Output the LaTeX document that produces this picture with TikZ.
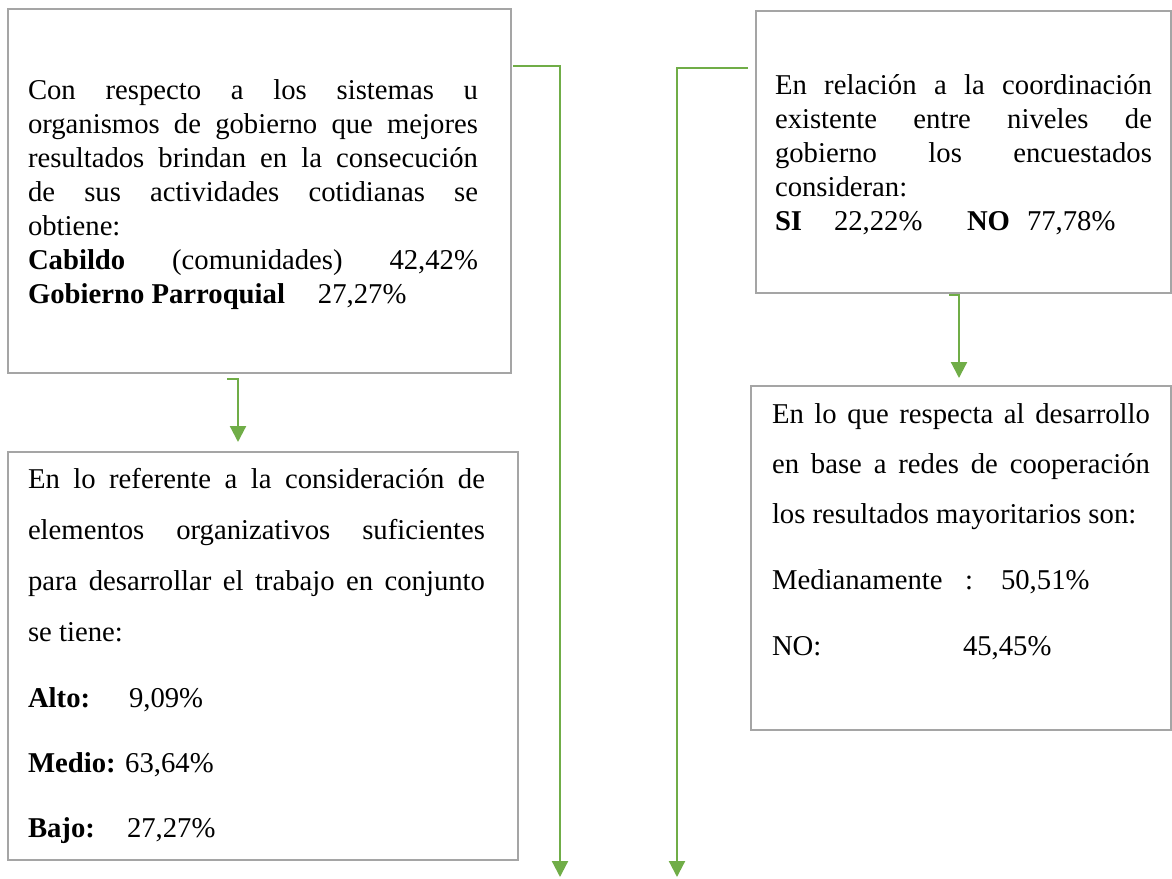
\documentclass[tikz,border=0pt]{standalone}
\usepackage{fontspec}
\setmainfont{Liberation Serif}
\usetikzlibrary{arrows.meta,calc}
\definecolor{offgreen}{HTML}{70AD47}
\definecolor{boxgray}{HTML}{A5A5A5}
\newcommand\Jline[2]{\makebox[#1][s]{#2}}
\tikzset{
  box/.style={draw=boxgray, line width=0.9pt, fill=white, inner sep=0pt, outer sep=0pt},
  txt/.style={anchor=base west, inner sep=0pt, outer sep=0pt, font=\fontsize{14.35}{17}\selectfont},
  conn/.style={draw=offgreen, line width=1.1pt, -{Triangle[length=8pt,width=8pt]}}
}
\begin{document}
\begin{tikzpicture}[x=0.5pt,y=-0.5pt]
\useasboundingbox (0,0) rectangle (1172,878);
% boxes
\node[box, minimum width=251.5pt, minimum height=182pt] (b1) at (259.5,191) {};
\node[box, minimum width=255pt, minimum height=204pt] (b2) at (263,656) {};
\node[box, minimum width=207.5pt, minimum height=141pt] (b3) at (963.5,152) {};
\node[box, minimum width=210pt, minimum height=172pt] (b4) at (961,558) {};
% box 1 text
\node[txt] (t1a) at (28,99) {\Jline{225pt}{Con respecto a los sistemas u}};
\node[txt] (t1b) at (28,133) {\Jline{225pt}{organismos de gobierno que mejores}};
\node[txt] (t1c) at (28,167) {\Jline{225pt}{resultados brindan en la consecución}};
\node[txt] (t1d) at (28,201) {\Jline{225pt}{de sus actividades cotidianas se}};
\node[txt] (t1e) at (28,235) {obtiene:};
\node[txt] (t1f) at (28,269) {\Jline{225pt}{\textbf{Cabildo} (comunidades) 42,42\%}};
\node[txt] (t1g) at (28,303) {\textbf{Gobierno Parroquial}\hspace{16.5pt}27,27\%};
% box 2 text
\node[txt] (t2a) at (28,488) {\Jline{228.5pt}{En lo referente a la consideración de}};
\node[txt] (t2b) at (28,539) {\Jline{228.5pt}{elementos organizativos suficientes}};
\node[txt] (t2c) at (28,590) {\Jline{228.5pt}{para desarrollar el trabajo en conjunto}};
\node[txt] (t2d) at (28,641) {se tiene:};
\node[txt] (t2e) at (28,707) {\makebox[50.5pt][l]{\textbf{Alto:}}9,09\%};
\node[txt] (t2f) at (28,772) {\textbf{Medio:} 63,64\%};
\node[txt] (t2g) at (28,837) {\makebox[49.5pt][l]{\textbf{Bajo:}}27,27\%};
% box 3 text
\node[txt] (t3a) at (775,94) {\Jline{188.5pt}{En relación a la coordinación}};
\node[txt] (t3b) at (775,128) {\Jline{188.5pt}{existente entre niveles de}};
\node[txt] (t3c) at (775,162) {\Jline{188.5pt}{gobierno los encuestados}};
\node[txt] (t3d) at (775,196) {consideran:};
\node[txt] (t3e) at (775,230) {\makebox[29.5pt][l]{\textbf{SI}}\makebox[66.5pt][l]{22,22\%}\makebox[30pt][l]{\textbf{NO}}77,78\%};
% box 4 text
\node[txt] (t4a) at (772,423) {\Jline{189pt}{En lo que respecta al desarrollo}};
\node[txt] (t4b) at (772,473) {\Jline{189pt}{en base a redes de cooperación}};
\node[txt] (t4c) at (772,523) {los resultados mayoritarios son:};
\node[txt] (t4d) at (772,589) {\makebox[96.5pt][l]{Medianamente}\makebox[18pt][l]{:}50,51\%};
\node[txt] (t4e) at (772,655) {\makebox[95.5pt][l]{NO:}45,45\%};
% free ends
\coordinate (e1) at (560,877);
\coordinate (e2) at (677,877);
% connectors
\draw[conn] ($(b1.north east)+(2,57)$) -| (e1);
\draw[conn] ($(b3.north west)+(-8,57)$) -| (e2);
\draw[conn] ($(b1.south west)+(219,6)$) -| ($(b2.north west)+(230,-10)$);
\draw[conn] ($(b3.south west)+(193,2)$) -| ($(b4.north west)+(208,-8)$);
\end{tikzpicture}
\end{document}
